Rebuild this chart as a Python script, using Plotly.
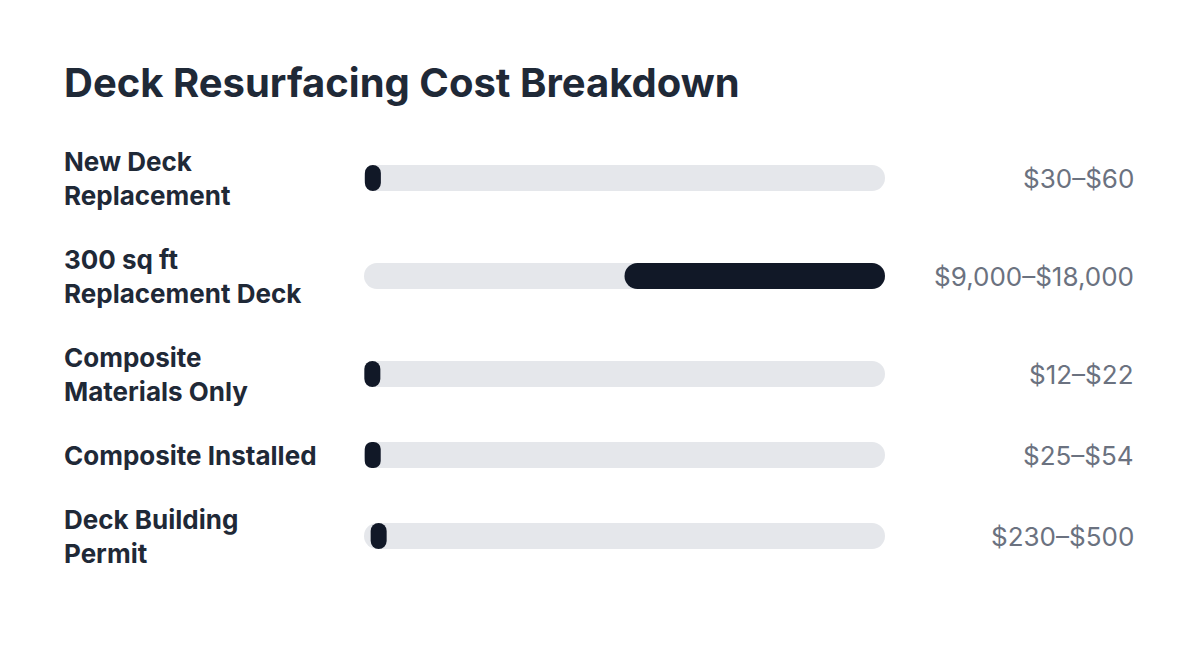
import plotly.graph_objects as go

title = "Deck Resurfacing Cost Breakdown"
categories = ["New Deck<br>Replacement", "300 sq ft<br>Replacement Deck",
              "Composite<br>Materials Only", "Composite Installed",
              "Deck Building<br>Permit"]
low_values = [30, 9000, 12, 25, 230]
high_values = [60, 18000, 22, 54, 500]
value_labels = ["$30–$60", "$9,000–$18,000", "$12–$22", "$25–$54", "$230–$500"]
scale_max = 18000

W, H = 1200, 656
off = 8  # page body margin
x0_px, x1_px = 364 - off, 885 - off
track_px = x1_px - x0_px
line_h = 34
row_gap = 30
first_top = 144 - off
bar_h = 26
min_bar_px = 16

centers = []
top = first_top
for c in categories:
    n = len(c.split("<br>"))
    h = n * line_h
    centers.append(top + h / 2)
    top += h + row_gap

min_w = min_bar_px / track_px * scale_max
lengths = [max(h - l, min_w) for l, h in zip(low_values, high_values)]

fig = go.Figure()
fig.add_trace(go.Bar(
    y=centers, x=[scale_max] * len(categories), base=[0] * len(categories),
    orientation="h", width=bar_h, marker=dict(color="#e5e7eb", cornerradius=13, line_width=0),
    hoverinfo="skip", showlegend=False))
fig.add_trace(go.Bar(
    y=centers, x=lengths, base=low_values,
    orientation="h", width=bar_h, marker=dict(color="#111827", cornerradius=13, line_width=0),
    hoverinfo="skip", showlegend=False))

lx = (62 - off) / W
annotations = [dict(text=title, xref="paper", yref="y", x=lx, y=82 - off,
                    xanchor="left", yanchor="middle", showarrow=False,
                    font=dict(family="Inter", size=40, weight=700, color="#1f2937"))]
for c, yc, v in zip(categories, centers, value_labels):
    lines = c.split("<br>")
    n = len(lines)
    for i, ln in enumerate(lines):
        yy = yc + (i - (n - 1) / 2) * line_h
        annotations.append(dict(text=ln, xref="paper", yref="y", x=lx, y=yy,
                                xanchor="left", yanchor="middle", showarrow=False,
                                font=dict(family="Inter", size=26, weight=700, color="#1f2937")))
    annotations.append(dict(text=v, xref="paper", yref="y", x=(1136 - off) / W, y=yc,
                            xanchor="right", yanchor="middle", showarrow=False,
                            font=dict(family="Inter", size=26, weight=400, color="#6b7280")))

fig.update_layout(
    width=W, height=H, margin=dict(l=0, r=0, t=0, b=0),
    paper_bgcolor="white", plot_bgcolor="white", barmode="overlay",
    xaxis=dict(domain=[x0_px / W, x1_px / W], range=[0, scale_max], visible=False, fixedrange=True),
    yaxis=dict(range=[H, 0], visible=False, fixedrange=True),
    annotations=annotations, showlegend=False,
)
fig.write_html("out.html")
